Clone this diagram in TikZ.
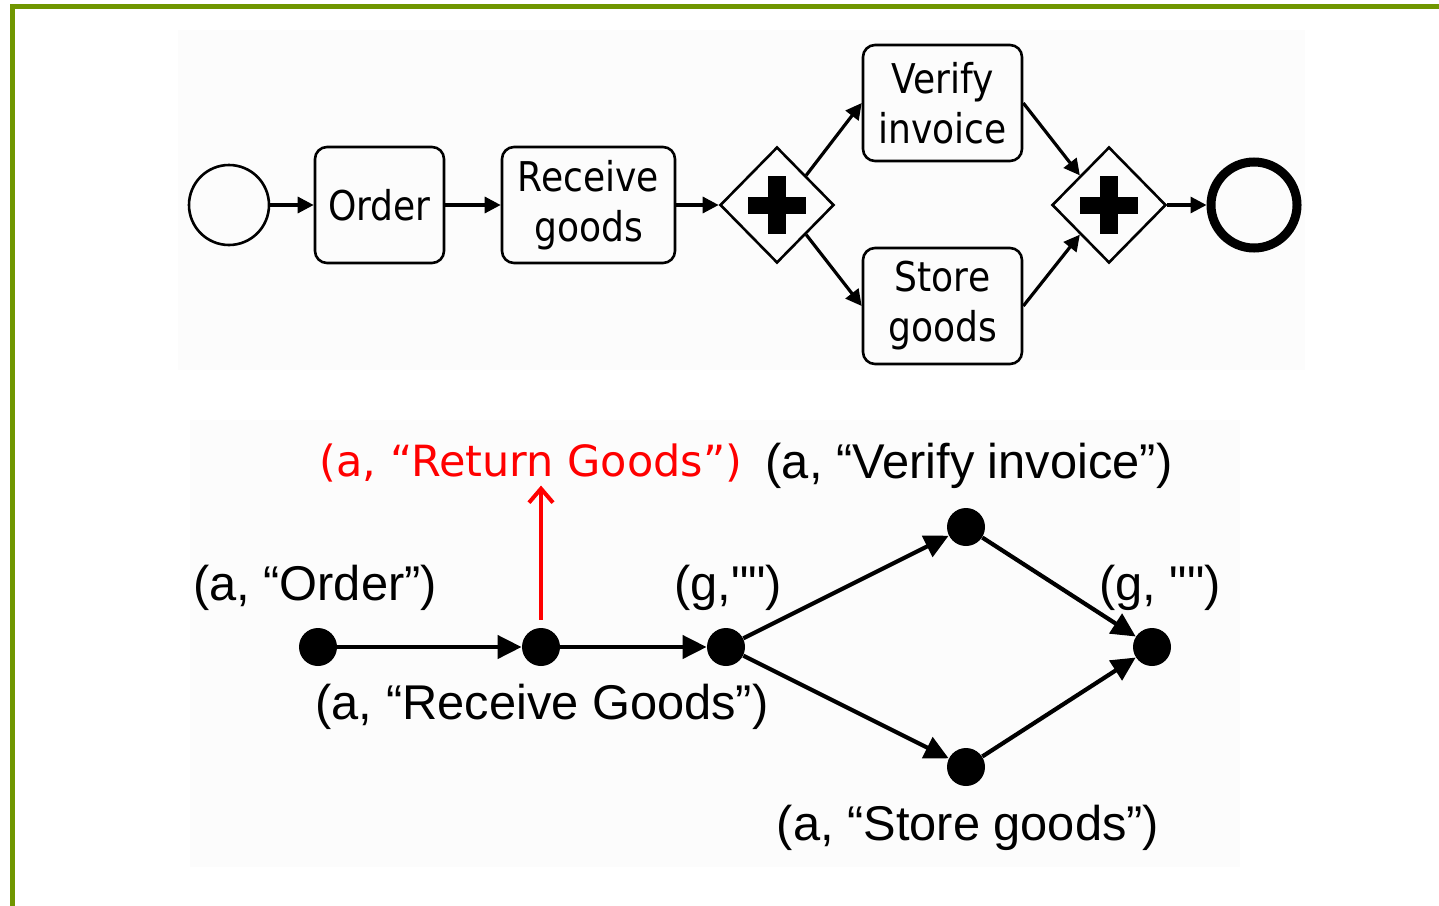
\documentclass[tikz,border=0pt]{standalone}
\usepackage{fontspec}
\setmainfont{Liberation Sans}[Ligatures=TeXOff]
\newfontfamily\bpmnfont{DejaVu Sans}[FakeStretch=0.88]
\newfontfamily\widefont{DejaVu Sans}
\usetikzlibrary{shapes.geometric,arrows.meta}
\definecolor{framegreen}{RGB}{112,150,0}
\definecolor{retred}{RGB}{255,0,0}

\begin{document}
\begin{tikzpicture}[x=0.5pt,y=-0.5pt,
    task/.style={draw,line width=1.3pt,rounded corners=6pt,minimum height=58pt,align=center,inner sep=0pt,
        font=\bpmnfont\fontsize{20.5}{25}\selectfont},
    gateway/.style={diamond,draw,line width=1.3pt,minimum width=57pt,minimum height=58pt,inner sep=0pt,
        path picture={
            \fill ([xshift=-14.5pt,yshift=-4.25pt]path picture bounding box.center) rectangle ++(29pt,8.5pt);
            \fill ([xshift=-4.5pt,yshift=-14.5pt]path picture bounding box.center) rectangle ++(9pt,29pt);}},
    flow/.style={-{Triangle[length=8pt,width=8pt]},line width=1.6pt},
    dot/.style={circle,fill=black,minimum size=19pt,inner sep=0pt},
    edge/.style={-{Triangle[length=12pt,width=11.5pt]},line width=2.1pt},
    lbl/.style={font=\fontsize{24.4}{28}\selectfont,inner sep=0pt}]
    % frame and backgrounds
    \useasboundingbox (0,0) rectangle (1439,905);
    \fill[black!1] (178,30) rectangle (1305,370);
    \fill[black!1] (190,420) rectangle (1240,867);
    \draw[framegreen,line width=2.6pt] (12.5,910) |- (1445,6.5);

    % process model
    \node[circle,draw,line width=1.3pt,minimum size=40pt,inner sep=0pt] (start) at (229,205) {};
    \node[task,minimum width=64.5pt] (order) at (379.5,205) {Order};
    \node[task,minimum width=86.5pt] (receive) at (588.5,205) {Receive\\goods};
    \node[gateway] (split) at (777,205) {};
    \node[task,minimum width=79.5pt] (verify) at (942.5,103) {Verify\\invoice};
    \node[task,minimum width=79.5pt] (store) at (942.5,306) {Store\\goods};
    \node[gateway] (join) at (1109,205) {};
    \node[circle,draw,line width=4.5pt,minimum size=43pt,inner sep=0pt] (end) at (1254,205) {};

    \draw[flow] (start) -- (order);
    \draw[flow] (order) -- (receive);
    \draw[flow] (receive) -- (split);
    \draw[flow] (split.north east) -- (verify.west);
    \draw[flow] (split.south east) -- (store.west);
    \draw[flow] (verify.east) -- (join.north west);
    \draw[flow] (store.east) -- (join.south west);
    \draw[flow] (join) -- (end);

    % graph
    \node[dot] (o1) at (318,647) {};
    \node[dot] (o2) at (541,647) {};
    \node[dot] (o3) at (726,647) {};
    \node[dot] (o4) at (966,527) {};
    \node[dot] (o5) at (966,767) {};
    \node[dot] (o6) at (1152,647) {};

    \node[lbl] (l1) at (315,588) {(a, “Order”)};
    \node[lbl] (l2) at (542,707) {(a, “Receive Goods”)};
    \node[lbl] (l3) at (728,588) {(g,"")};
    \node[lbl] (l4) at (969,466) {(a, “Verify invoice”)};
    \node[lbl] (l5) at (1160,588) {(g, "")};
    \node[lbl] (l6) at (968,828) {(a, “Store goods”)};
    \node[lbl,retred,font=\widefont\fontsize{21.5}{25}\selectfont] (ret) at (531,463) {(a, “Return Goods”)};

    \draw[edge] (o1) -- (o2);
    \draw[edge] (o2) -- (o3);
    \draw[edge] (o3) -- (o4);
    \draw[edge] (o3) -- (o5);
    \draw[edge] (o4) -- (o6);
    \draw[edge] (o5) -- (o6);
    \draw[retred,line width=2pt,-{Straight Barb[length=7pt,width=12pt]},shorten <=4pt,shorten >=1.5pt] (o2) -- (o2 |- ret.south);
\end{tikzpicture}
\end{document}
